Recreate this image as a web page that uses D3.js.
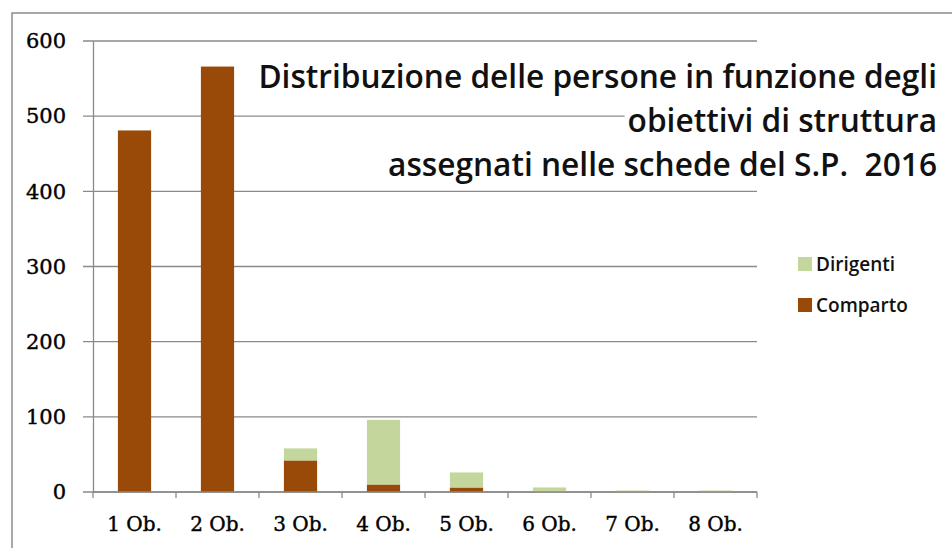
<!DOCTYPE html>
<html>
<head>
<meta charset="utf-8">
<script src="https://cdn.jsdelivr.net/npm/d3@7"></script>
<style>
  body { margin: 0; background: #fff; }
  text { font-variant-ligatures: none; }
</style>
</head>
<body>
<div id="chart"></div>
<script>
var width = 952;
var height = 548;

// data
var categories = ["1 Ob.", "2 Ob.", "3 Ob.", "4 Ob.", "5 Ob.", "6 Ob.", "7 Ob.", "8 Ob."];
var comparto = [481, 566, 42, 10, 6, 0, 0, 0];
var dirigenti = [0, 0, 16, 86, 20, 6, 2, 2];
var yTicks = [0, 100, 200, 300, 400, 500, 600];
var seriesNames = ["Comparto", "Dirigenti"];
var seriesColors = ["#9a4a08", "#c3d69b"];
var titleLines = ["Distribuzione delle persone in funzione degli", "obiettivi di struttura", "assegnati nelle schede del S.P.  2016"];

var rows = categories.map(function(c, i) {
  return { cat: c, Comparto: comparto[i], Dirigenti: dirigenti[i] };
});

var plotLeft = 93, plotRight = 757, plotTop = 41, plotBottom = 492;

var svg = d3.select("#chart")
  .append("svg")
  .attr("width", width)
  .attr("height", height);

// outer frame of the chart area
svg.append("rect")
  .attr("x", 12)
  .attr("y", 13)
  .attr("width", 1000)
  .attr("height", 600)
  .style("fill", "white")
  .style("stroke", "#8c8c8c")
  .style("stroke-width", 1.5);

var x = d3.scaleBand()
  .domain(categories)
  .range([plotLeft, plotRight])
  .paddingInner(0.6)
  .paddingOuter(0.3);

var y = d3.scaleLinear()
  .domain([0, 600])
  .range([plotBottom, plotTop]);

// gridlines (they stick out left of the axis like ticks)
svg.append("g")
  .selectAll("line")
  .data(yTicks)
  .enter()
  .append("line")
  .attr("x1", plotLeft - 10)
  .attr("x2", plotRight)
  .attr("y1", function(d) { return y(d); })
  .attr("y2", function(d) { return y(d); })
  .style("stroke", "#8a8a8a")
  .style("stroke-width", 1.3);

// y axis
var yAxis = svg.append("g")
  .attr("transform", "translate(" + plotLeft + ",0)")
  .call(d3.axisLeft(y).tickValues(yTicks).tickSize(0).tickPadding(27));
yAxis.select(".domain").style("stroke", "#8a8a8a").style("stroke-width", 1.3);
yAxis.selectAll("text")
  .attr("font-family", "DejaVu Serif")
  .attr("font-size", "21px")
  .style("fill", "#000")
  .style("stroke", "#000")
  .style("stroke-width", 0.4);

// stacked bars
var stack = d3.stack().keys(seriesNames);
var layers = stack(rows);

svg.append("g")
  .selectAll("g")
  .data(layers)
  .enter()
  .append("g")
  .style("fill", function(d, i) { return seriesColors[i]; })
  .selectAll("rect")
  .data(function(d) { return d; })
  .enter()
  .append("rect")
  .attr("x", function(d) { return x(d.data.cat); })
  .attr("width", x.bandwidth())
  .attr("y", function(d) { return y(d[1]); })
  .attr("height", function(d) { return y(d[0]) - y(d[1]); });

// x axis with ticks between categories
var xAxisG = svg.append("g");
xAxisG.append("line")
  .attr("x1", plotLeft)
  .attr("x2", plotRight)
  .attr("y1", plotBottom)
  .attr("y2", plotBottom)
  .style("stroke", "#8a8a8a")
  .style("stroke-width", 1.3);

var bounds = d3.range(categories.length + 1).map(function(i) {
  return plotLeft + i * x.step();
});
xAxisG.selectAll(".tk")
  .data(bounds)
  .enter()
  .append("line")
  .attr("class", "tk")
  .attr("x1", function(d) { return d; })
  .attr("x2", function(d) { return d; })
  .attr("y1", plotBottom)
  .attr("y2", plotBottom + 6)
  .style("stroke", "#8a8a8a")
  .style("stroke-width", 1.3);

xAxisG.selectAll(".lbl")
  .data(categories)
  .enter()
  .append("text")
  .attr("class", "lbl")
  .attr("x", function(d) { return x(d) + x.bandwidth() / 2; })
  .attr("y", 531)
  .attr("text-anchor", "middle")
  .attr("font-family", "DejaVu Serif")
  .attr("font-size", "20px")
  .style("fill", "#000")
  .style("stroke", "#000")
  .style("stroke-width", 0.4)
  .text(function(d) { return d; });

// title, right aligned, each line on white
var titleG = svg.append("g");
var titleY = [88, 132, 176];
var titleSize = 30;
// fit the font so the first line spans like in the picture
var probe = titleG.append("text")
  .attr("font-family", "Open Sans")
  .attr("font-weight", 600)
  .attr("font-size", titleSize + "px")
  .text(titleLines[0]);
titleSize = titleSize * 679 / probe.node().getComputedTextLength();
probe.remove();

titleLines.forEach(function(t, i) {
  var bg = titleG.append("rect").style("fill", "white");
  var txt = titleG.append("text")
    .attr("x", 937)
    .attr("y", titleY[i])
    .attr("text-anchor", "end")
    .attr("font-family", "Open Sans")
    .attr("font-weight", 600)
    .attr("font-size", titleSize + "px")
    .style("fill", "#111")
    .style("white-space", "pre")
    .text(t);
  var b = txt.node().getBBox();
  bg.attr("x", b.x - 3).attr("y", b.y + 3).attr("width", b.width + 6).attr("height", b.height - 4);
});

// legend
var legendItems = [
  { name: "Dirigenti", color: seriesColors[1] },
  { name: "Comparto", color: seriesColors[0] }
];
var legend = svg.append("g")
  .selectAll("g")
  .data(legendItems)
  .enter()
  .append("g")
  .attr("transform", function(d, i) { return "translate(798," + (257 + i * 41) + ")"; });

legend.append("rect")
  .attr("width", 14)
  .attr("height", 14)
  .style("fill", function(d) { return d.color; });

legend.append("text")
  .attr("x", 18)
  .attr("y", 14)
  .attr("font-family", "Open Sans")
  .attr("font-weight", 600)
  .attr("font-size", "19px")
  .style("fill", "#111")
  .text(function(d) { return d.name; });
</script>
</body>
</html>
